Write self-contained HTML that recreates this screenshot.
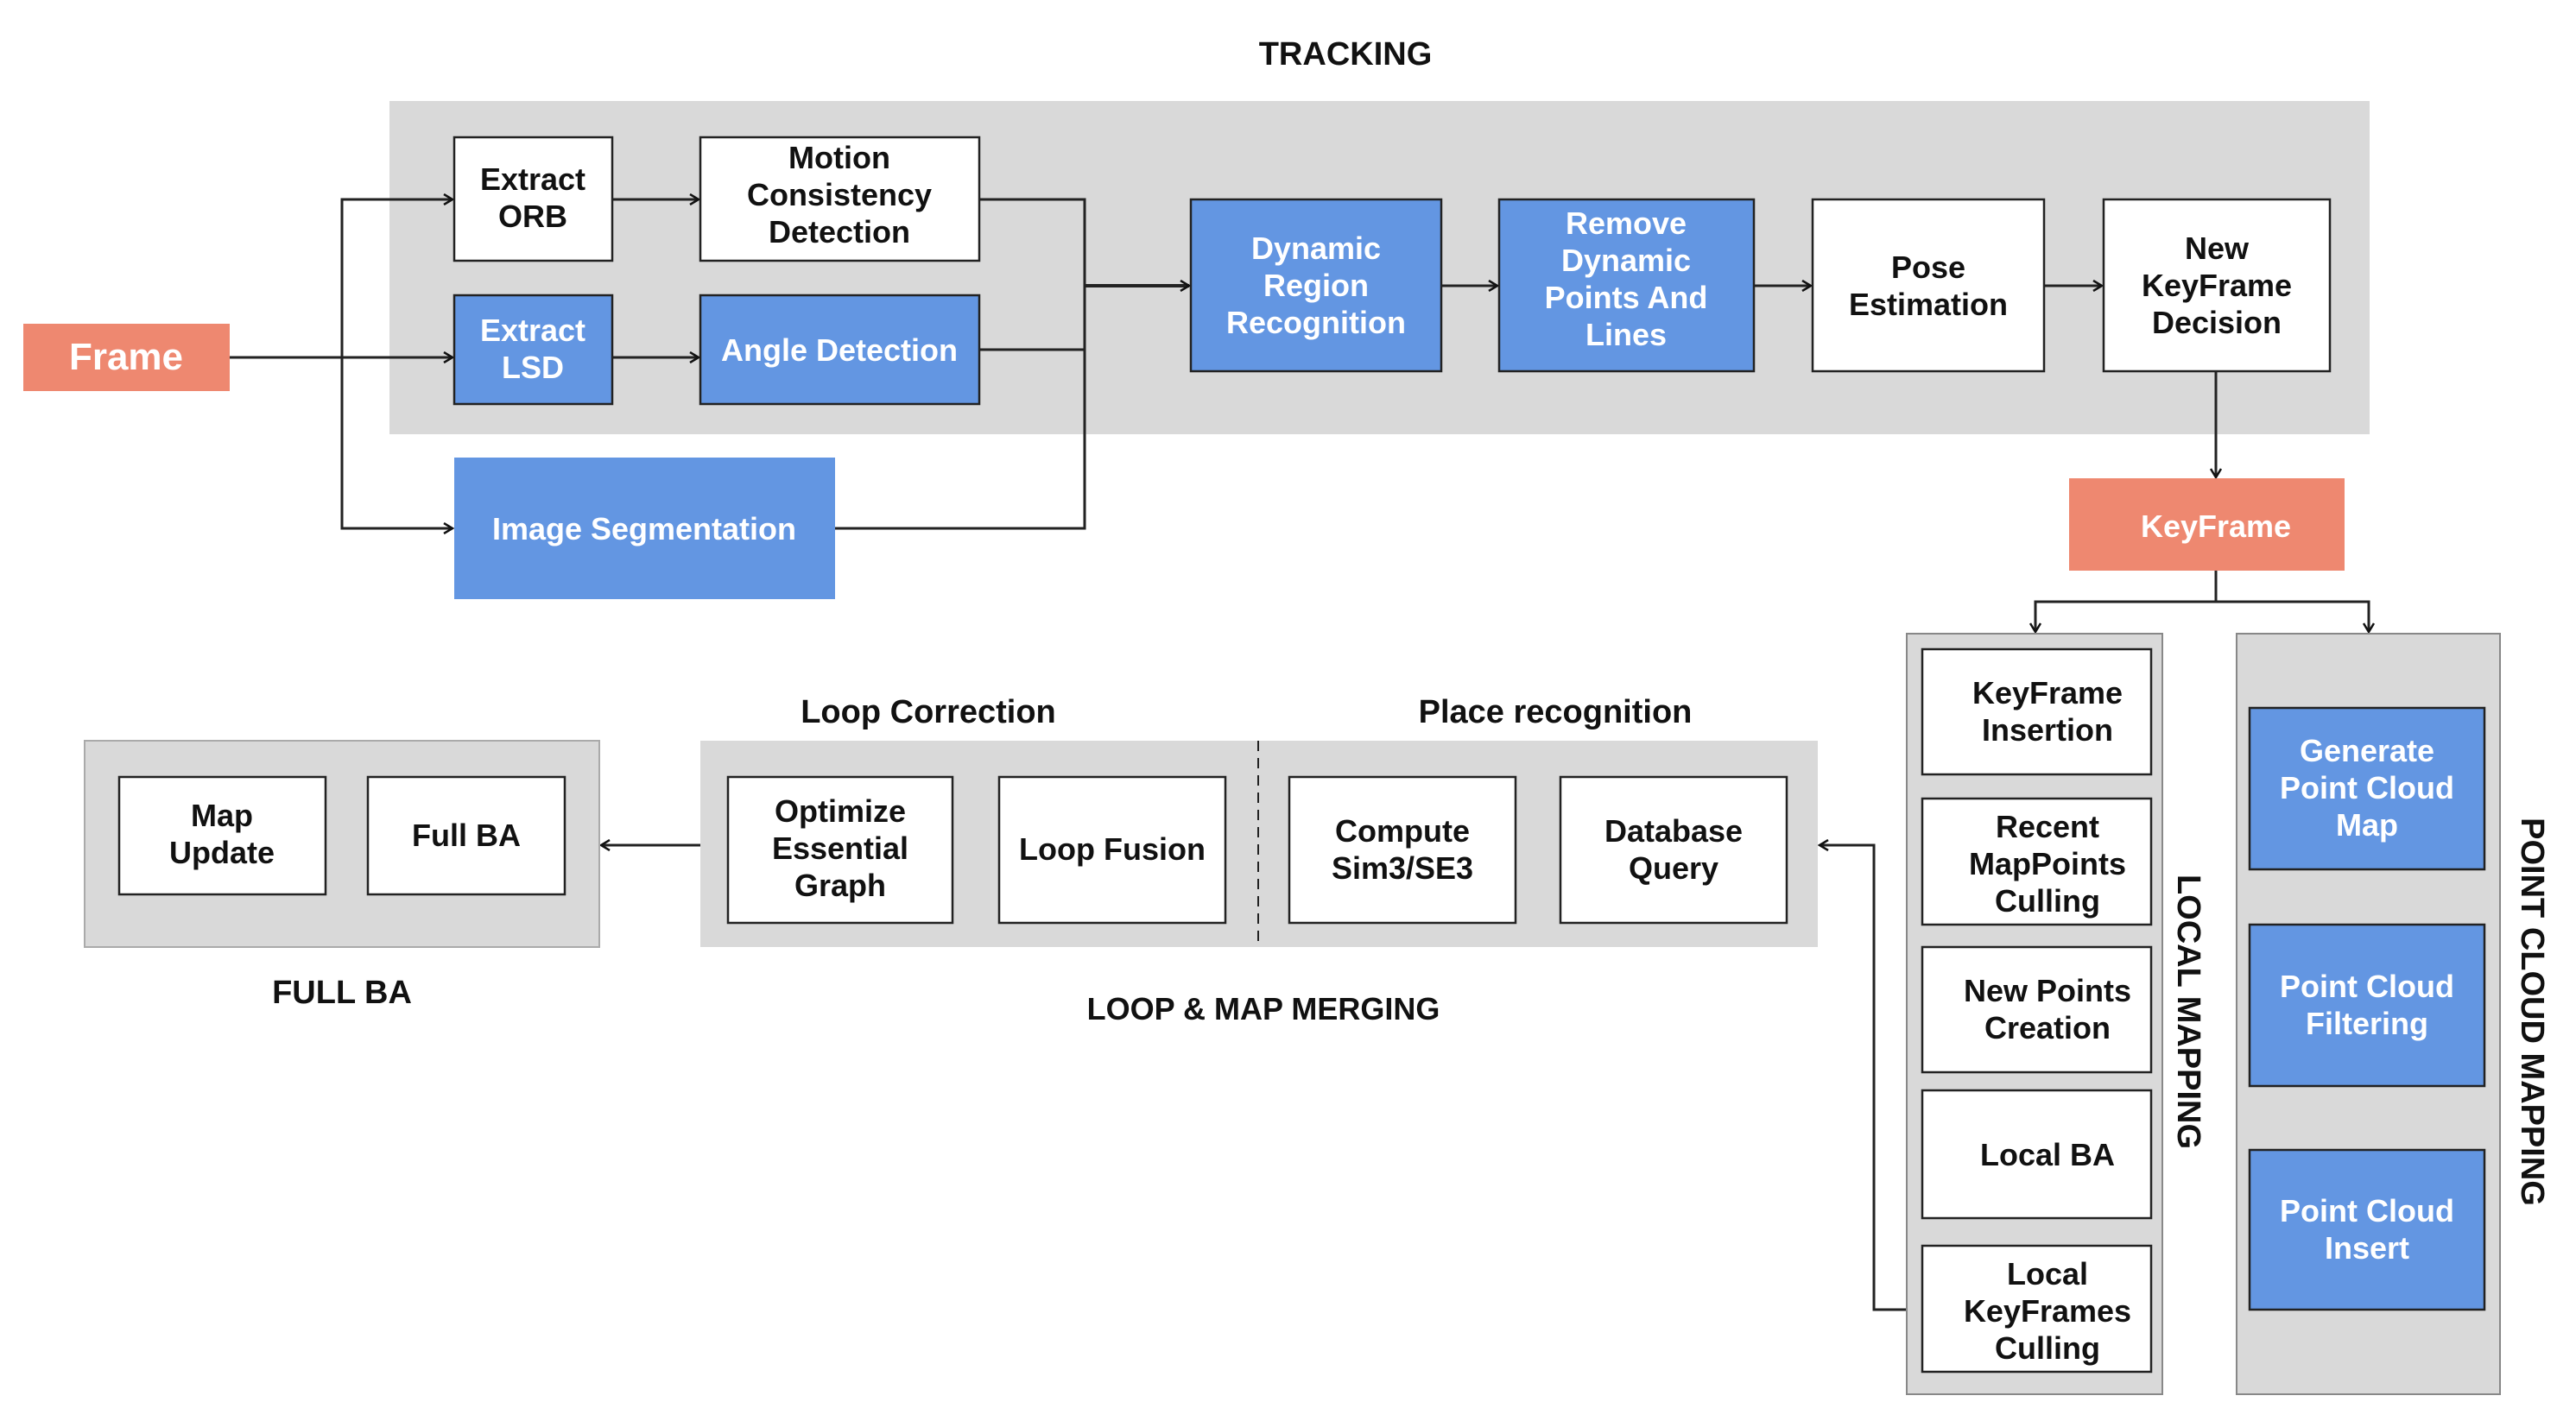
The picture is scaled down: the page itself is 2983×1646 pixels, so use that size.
<!DOCTYPE html>
<html><head><meta charset="utf-8"><style>
html,body{margin:0;padding:0;background:#fff;}
svg{display:block;}
text{font-family:"Liberation Sans",Arial,sans-serif;font-weight:bold;text-anchor:middle;}
.w{fill:#fff;}
.k{fill:#111;}
</style></head><body>
<svg width="2983" height="1646" viewBox="0 0 2983 1646" xmlns="http://www.w3.org/2000/svg">
<defs>
<marker id="a" markerWidth="14" markerHeight="14" refX="12" refY="7" orient="auto" markerUnits="userSpaceOnUse">
<path d="M2,1 L12,7 L2,13" fill="none" stroke="#111" stroke-width="2.5"/>
</marker>
</defs>
<!-- Titles -->
<text x="1558" y="75" font-size="38" class="k">TRACKING</text>
<!-- Tracking gray -->
<rect x="451" y="117" width="2293" height="386" fill="#d9d9d9"/>
<!-- Frame -->
<rect x="27" y="375" width="239" height="78" fill="#ee8870"/>
<text x="146" y="428" font-size="44" class="w">Frame</text>
<!-- connectors left -->
<g stroke="#222" stroke-width="3" fill="none">
<line x1="266" y1="414" x2="524" y2="414" marker-end="url(#a)"/>
<polyline points="524,231 396,231 396,612 524,612" />
<line x1="396" y1="231" x2="524" y2="231" marker-end="url(#a)"/>
<line x1="396" y1="612" x2="524" y2="612" marker-end="url(#a)"/>
<line x1="709" y1="231" x2="809" y2="231" marker-end="url(#a)"/>
<line x1="709" y1="414" x2="809" y2="414" marker-end="url(#a)"/>
<polyline points="1134,231 1256,231 1256,612 967,612"/>
<line x1="1134" y1="405" x2="1256" y2="405"/>
<line x1="1256" y1="331" x2="1377" y2="331" stroke-width="4" marker-end="url(#a)"/>
<line x1="1669" y1="331" x2="1734" y2="331" marker-end="url(#a)"/>
<line x1="2031" y1="331" x2="2097" y2="331" marker-end="url(#a)"/>
<line x1="2367" y1="331" x2="2434" y2="331" marker-end="url(#a)"/>
<line x1="2566" y1="430" x2="2566" y2="553" marker-end="url(#a)"/>
<line x1="2566" y1="661" x2="2566" y2="697"/>
<polyline points="2357,730 2357,697 2743,697 2743,730"/>
<line x1="2357" y1="697" x2="2357" y2="732" marker-end="url(#a)"/>
<line x1="2743" y1="697" x2="2743" y2="732" marker-end="url(#a)"/>
<polyline points="2226,1517 2170,1517 2170,979 2107,979"/>
<line x1="2140" y1="979" x2="2107" y2="979" marker-end="url(#a)"/>
<line x1="811" y1="979" x2="696" y2="979" marker-end="url(#a)"/>
</g>
<!-- Tracking boxes -->
<g stroke="#222" stroke-width="2.5">
<rect x="526" y="159" width="183" height="143" fill="#fff"/>
<rect x="811" y="159" width="323" height="143" fill="#fff"/>
<rect x="526" y="342" width="183" height="126" fill="#6396e2"/>
<rect x="811" y="342" width="323" height="126" fill="#6396e2"/>
<rect x="1379" y="231" width="290" height="199" fill="#6396e2"/>
<rect x="1736" y="231" width="295" height="199" fill="#6396e2"/>
<rect x="2099" y="231" width="268" height="199" fill="#fff"/>
<rect x="2436" y="231" width="262" height="199" fill="#fff"/>
</g>
<rect x="526" y="530" width="441" height="164" fill="#6396e2"/>
<g font-size="36">
<text x="617" y="220" class="k">Extract</text><text x="617" y="263" class="k">ORB</text>
<text x="972" y="195" class="k">Motion</text><text x="972" y="238" class="k">Consistency</text><text x="972" y="281" class="k">Detection</text>
<text x="617" y="395" class="w">Extract</text><text x="617" y="438" class="w">LSD</text>
<text x="972" y="418" class="w">Angle Detection</text>
<text x="746" y="625" class="w">Image Segmentation</text>
<text x="1524" y="300" class="w">Dynamic</text><text x="1524" y="343" class="w">Region</text><text x="1524" y="386" class="w">Recognition</text>
<text x="1883" y="271" class="w">Remove</text><text x="1883" y="314" class="w">Dynamic</text><text x="1883" y="357" class="w">Points And</text><text x="1883" y="400" class="w">Lines</text>
<text x="2233" y="322" class="k">Pose</text><text x="2233" y="365" class="k">Estimation</text>
<text x="2567" y="300" class="k">New</text><text x="2567" y="343" class="k">KeyFrame</text><text x="2567" y="386" class="k">Decision</text>
</g>
<!-- KeyFrame -->
<rect x="2396" y="554" width="319" height="107" fill="#ee8870"/>
<text x="2566" y="622" font-size="36" class="w">KeyFrame</text>
<!-- Local mapping -->
<rect x="2208" y="734" width="296" height="881" fill="#d9d9d9" stroke="#888" stroke-width="2"/>
<g stroke="#222" stroke-width="2.5" fill="#fff">
<rect x="2226" y="752" width="265" height="145"/>
<rect x="2226" y="925" width="265" height="146"/>
<rect x="2226" y="1097" width="265" height="145"/>
<rect x="2226" y="1263" width="265" height="148"/>
<rect x="2226" y="1443" width="265" height="146"/>
</g>
<g font-size="36" class="k">
<text x="2371" y="815">KeyFrame</text><text x="2371" y="858">Insertion</text>
<text x="2371" y="970">Recent</text><text x="2371" y="1013">MapPoints</text><text x="2371" y="1056">Culling</text>
<text x="2371" y="1160">New Points</text><text x="2371" y="1203">Creation</text>
<text x="2371" y="1350">Local BA</text>
<text x="2371" y="1488">Local</text><text x="2371" y="1531">KeyFrames</text><text x="2371" y="1574">Culling</text>
</g>
<text transform="translate(2534,1172) rotate(90)" x="0" y="12" font-size="38" class="k">LOCAL MAPPING</text>
<!-- Point cloud -->
<rect x="2590" y="734" width="305" height="881" fill="#d9d9d9" stroke="#888" stroke-width="2"/>
<g stroke="#222" stroke-width="2.5" fill="#6396e2">
<rect x="2605" y="820" width="272" height="187"/>
<rect x="2605" y="1071" width="272" height="187"/>
<rect x="2605" y="1332" width="272" height="185"/>
</g>
<g font-size="36" class="w">
<text x="2741" y="882">Generate</text><text x="2741" y="925">Point Cloud</text><text x="2741" y="968">Map</text>
<text x="2741" y="1155">Point Cloud</text><text x="2741" y="1198">Filtering</text>
<text x="2741" y="1415">Point Cloud</text><text x="2741" y="1458">Insert</text>
</g>
<text transform="translate(2932,1172) rotate(90)" x="0" y="12" font-size="38" class="k">POINT CLOUD  MAPPING</text>
<!-- Loop & map merging -->
<text x="1075" y="837" font-size="38" class="k">Loop Correction</text>
<text x="1801" y="837" font-size="38" class="k">Place recognition</text>
<rect x="811" y="858" width="1294" height="239" fill="#d9d9d9"/>
<line x1="1457" y1="858" x2="1457" y2="1097" stroke="#222" stroke-width="2" stroke-dasharray="12,8"/>
<g stroke="#222" stroke-width="2.5" fill="#fff">
<rect x="843" y="900" width="260" height="169"/>
<rect x="1157" y="900" width="262" height="169"/>
<rect x="1493" y="900" width="262" height="169"/>
<rect x="1807" y="900" width="262" height="169"/>
</g>
<g font-size="36" class="k">
<text x="973" y="952">Optimize</text><text x="973" y="995">Essential</text><text x="973" y="1038">Graph</text>
<text x="1288" y="996">Loop Fusion</text>
<text x="1624" y="975">Compute</text><text x="1624" y="1018">Sim3/SE3</text>
<text x="1938" y="975">Database</text><text x="1938" y="1018">Query</text>
</g>
<text x="1463" y="1181" font-size="36" class="k">LOOP &amp; MAP MERGING</text>
<!-- Full BA -->
<rect x="98" y="858" width="596" height="239" fill="#d9d9d9" stroke="#aaa" stroke-width="2"/>
<g stroke="#222" stroke-width="2.5" fill="#fff">
<rect x="138" y="900" width="239" height="136"/>
<rect x="426" y="900" width="228" height="136"/>
</g>
<g font-size="36" class="k">
<text x="257" y="957">Map</text><text x="257" y="1000">Update</text>
<text x="540" y="980">Full BA</text>
</g>
<text x="396" y="1162" font-size="38" class="k">FULL BA</text>
</svg>
</body></html>
